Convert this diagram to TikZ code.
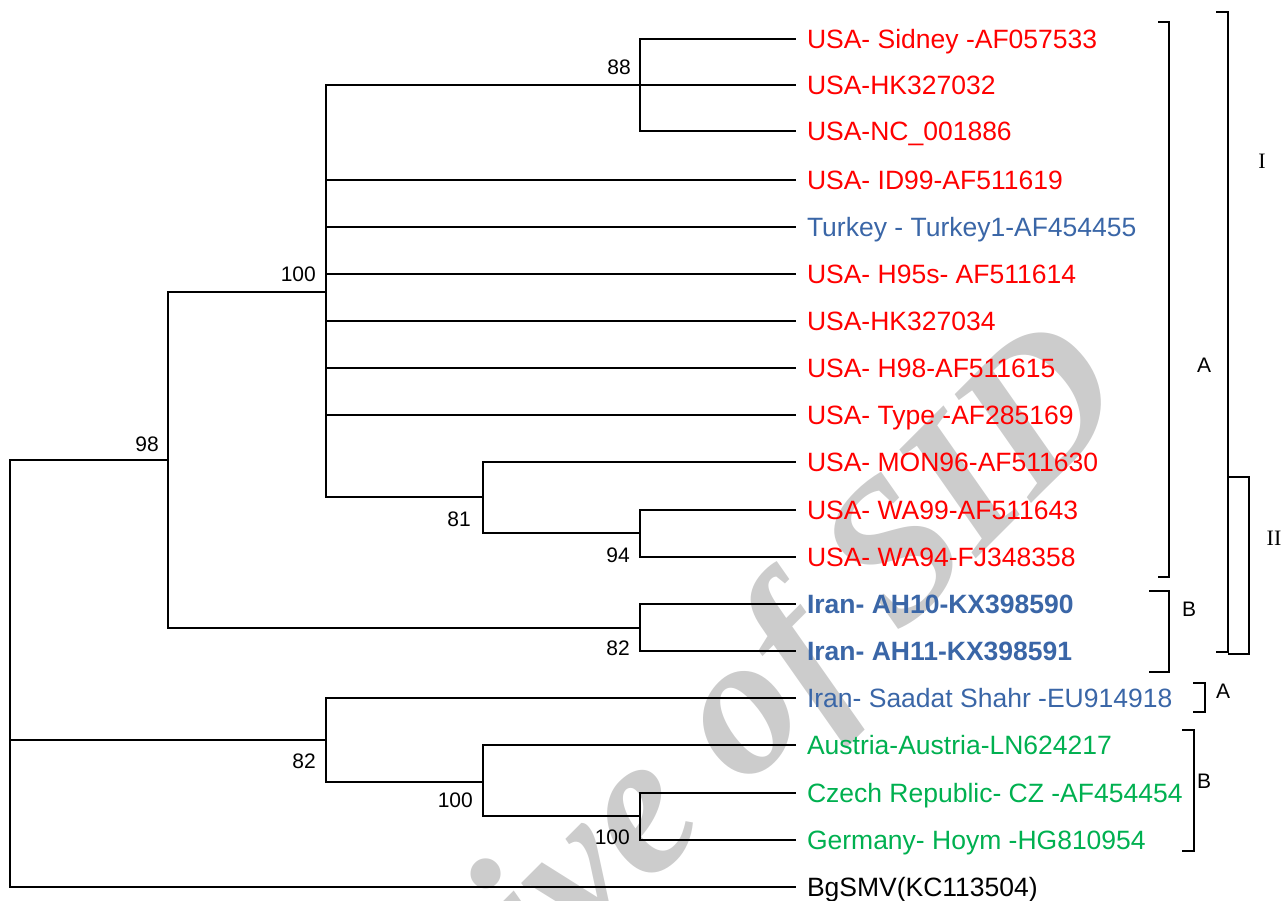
\documentclass[tikz,border=0pt]{standalone}
\usepackage{fontspec}
\setmainfont{Liberation Sans}
\newfontfamily\serifw{Liberation Serif}
\definecolor{usared}{HTML}{FF0000}
\definecolor{irblue}{HTML}{3A66A7}
\definecolor{eugreen}{HTML}{00B050}
\definecolor{wmgray}{HTML}{CCCCCC}
\begin{document}
\begin{tikzpicture}[x=1pt,y=-1pt,
  branch/.style={line width=1.6pt,line cap=rect},
  leaf/.style={anchor=west,inner sep=0pt,outer xsep=12pt,text height=18.9pt,text depth=0pt,font=\fontsize{26.5}{30}\selectfont},
  red/.style={text=usared},
  blu/.style={text=irblue},
  grn/.style={text=eugreen},
  boot/.style={anchor=base east,inner sep=0pt,font=\fontsize{21}{24}\selectfont},
  brk/.style={line width=1.6pt},
  brklab/.style={inner sep=0pt,font=\fontsize{21}{24}\selectfont},
  romlab/.style={inner sep=0pt,font=\serifw\fontsize{22}{24}\selectfont}]
\useasboundingbox (0,0) rectangle (1288,901);
% watermark
\begin{scope}
\clip (0,0) rectangle (1288,901);
\node[anchor=base east,inner sep=0pt,rotate=45,text=wmgray,font=\serifw\bfseries\itshape\fontsize{200}{210}\selectfont] (wm) at (1135,400) {Archive of SID};
\end{scope}
% leaves
\node[leaf,red] (L1) at (795,39) {USA- Sidney -AF057533};
\node[leaf,red] (L2) at (795,85) {USA-HK327032};
\node[leaf,red] (L3) at (795,131) {USA-NC\_001886};
\node[leaf,red] (L4) at (795,180) {USA- ID99-AF511619};
\node[leaf,blu] (L5) at (795,227) {Turkey - Turkey1-AF454455};
\node[leaf,red] (L6) at (795,274) {USA- H95s- AF511614};
\node[leaf,red] (L7) at (795,321) {USA-HK327034};
\node[leaf,red] (L8) at (795,368) {USA- H98-AF511615};
\node[leaf,red] (L9) at (795,415) {USA- Type -AF285169};
\node[leaf,red] (L10) at (795,462) {USA- MON96-AF511630};
\node[leaf,red] (L11) at (795,510) {USA- WA99-AF511643};
\node[leaf,red] (L12) at (795,557) {USA- WA94-FJ348358};
\node[leaf,blu,font=\bfseries\fontsize{26.5}{30}\selectfont] (L13) at (795,604) {Iran- AH10-KX398590};
\node[leaf,blu,font=\bfseries\fontsize{26.5}{30}\selectfont] (L14) at (795,651) {Iran- AH11-KX398591};
\node[leaf,blu] (L15) at (795,698) {Iran- Saadat Shahr -EU914918};
\node[leaf,grn] (L16) at (795,745) {Austria-Austria-LN624217};
\node[leaf,grn] (L17) at (795,793) {Czech Republic- CZ -AF454454};
\node[leaf,grn] (L18) at (795,840) {Germany- Hoym -HG810954};
\node[leaf] (L19) at (795,887) {BgSMV(KC113504)};
% internal nodes
\coordinate (n88) at (640,85);
\coordinate (n100) at (326,292);
\coordinate (n81) at (483,497);
\coordinate (n94) at (640,533);
\coordinate (nIr) at (640,628);
\coordinate (n98) at (168,460);
\coordinate (root) at (10,740);
\coordinate (nB82) at (326,740);
\coordinate (nB100) at (483,782);
\coordinate (nB100b) at (640,816);
% branches
\draw[branch] (L1.west) -| (n88) |- (L3.west);
\draw[branch] (n100 |- n88) -- (L2.west);
\draw[branch] (n100 |- n88) -- (n100 |- n81);
\foreach \k in {4,...,9} \draw[branch] (n100 |- L\k.west) -- (L\k.west);
\draw[branch] (n100 |- n81) -- (n81);
\draw[branch] (L10.west) -| (n81) |- (n94);
\draw[branch] (L11.west) -| (n94) |- (L12.west);
\draw[branch] (L13.west) -| (nIr) |- (L14.west);
\draw[branch] (n100) -| (n98) |- (nIr);
\draw[branch] (n98) -| (root) |- (L19.west);
\draw[branch] (root) -- (nB82);
\draw[branch] (L15.west) -| (nB82) |- (nB100);
\draw[branch] (L16.west) -| (nB100) |- (nB100b);
\draw[branch] (L17.west) -| (nB100b) |- (L18.west);
% bootstrap values
\node[boot] (b88) at (631,75) {88};
\node[boot] (b100) at (316,282) {100};
\node[boot] (b98) at (159,451) {98};
\node[boot] (b81) at (471,526) {81};
\node[boot] (b94) at (630,562) {94};
\node[boot] (b82) at (630,655) {82};
\node[boot] (b82b) at (316,768) {82};
\node[boot] (b100b) at (473,807) {100};
\node[boot] (b100c) at (630,844) {100};
% brackets
\draw[brk] (1158,22) -- (1169,22) -- (1169,577) -- (1158,577);
\node[brklab] (lA1) at (1204,365) {A};
\draw[brk] (1149,591) -- (1169,591) -- (1169,672) -- (1149,672);
\node[brklab] (lB1) at (1189,609) {B};
\draw[brk] (1216,12) -- (1228,12) -- (1228,652) -- (1216,652);
\node[romlab] (lI) at (1262,161) {I};
\draw[brk] (1228,477) -- (1249,477) -- (1249,654) -- (1228,654);
\node[romlab] (lII) at (1274,538) {II};
\draw[brk] (1193,683) -- (1205,683) -- (1205,712) -- (1193,712);
\node[brklab] (lA2) at (1223,691) {A};
\draw[brk] (1182,730) -- (1194,730) -- (1194,851) -- (1182,851);
\node[brklab] (lB2) at (1204,781) {B};
\end{tikzpicture}
\end{document}
